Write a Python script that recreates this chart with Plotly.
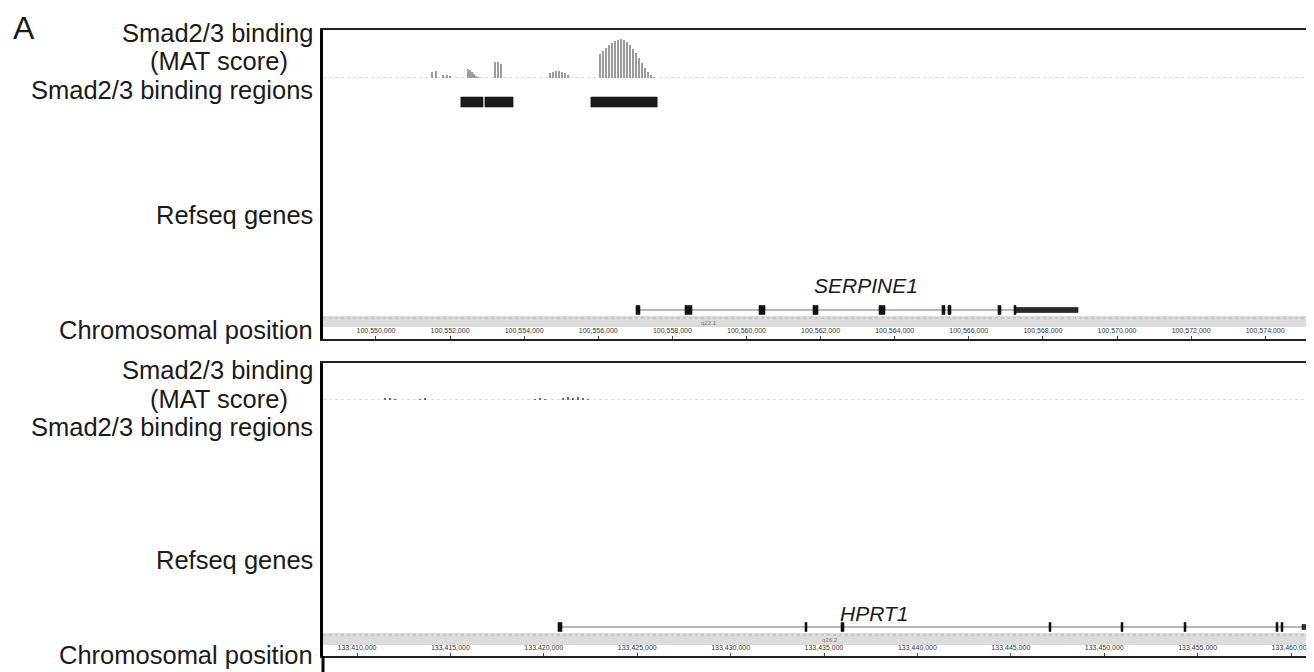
import plotly.graph_objects as go

W, H = 1314, 672
OFF = 8  # default page margin of the HTML body

# ---------------- data: top locus (chr7, SERPINE1) ----------------
top_range = [100548570, 100575317]
top_ticks = list(range(100548000, 100576001, 2000))
top_probe_pos = [100551511, 100551619, 100551808, 100551916, 100551997,
                 100552483, 100552537, 100552591, 100552645, 100552699, 100552753,
                 100553212, 100553293, 100553374,
                 100554696, 100554777, 100554858, 100554939, 100555020, 100555101, 100555182,
                 100556046, 100556127, 100556208, 100556289, 100556370, 100556451, 100556532,
                 100556613, 100556694, 100556775, 100556856, 100556937, 100557017, 100557098,
                 100557179, 100557260, 100557341, 100557422, 100557503]
top_probe_score = [6, 7, 3, 3, 2,
                   9, 8, 6, 4, 2, 1,
                   16, 16, 14,
                   5, 6, 7, 7, 6, 5, 3,
                   24, 27, 30, 33, 35, 37, 38,
                   39, 38, 36, 33, 29, 25, 20,
                   15, 10, 6, 3, 1]
top_region_start = [100552290, 100552940, 100555800]
top_region_end = [100552890, 100553700, 100557590]
serpine1_exon_start = [100557017, 100558340, 100560337, 100561795, 100563576,
                       100565276, 100565438, 100566788, 100567220]
serpine1_exon_end = [100557125, 100558529, 100560499, 100561930, 100563738,
                     100565357, 100565519, 100566869, 100567274]
serpine1_utr_start = [100567274]
serpine1_utr_end = [100568947]
serpine1_span = [100557017, 100568947]
serpine1_label_pos = 100563225
top_band_label = "q22.1"
top_band_label_pos = 100559000

# ---------------- data: bottom locus (chrX, HPRT1) ----------------
bot_range = [133408180, 133461228]
bot_ticks = list(range(133405000, 133465001, 5000))
bot_probe_pos = [133411499, 133411766, 133412034, 133413372, 133413640,
                 133419528, 133419796, 133420064, 133421027, 133421295,
                 133421562, 133421830, 133422098, 133422365]
bot_probe_score = [1.5, 2, 1, 1, 1.5, 1, 1.5, 1, 2, 3, 2.5, 3, 2, 1]
bot_region_start = []
bot_region_end = []
hprt1_exon_start = [133420759, 133433981, 133435909, 133447043, 133450897,
                    133454269, 133459194, 133459462]
hprt1_exon_end = [133420974, 133434089, 133436069, 133447150, 133451004,
                  133454376, 133459301, 133459569]
hprt1_utr_start = [133460586]
hprt1_utr_end = [133461500]
hprt1_span = [133420759, 133461500]
hprt1_label_pos = 133437675
bot_band_label = "q26.2"
bot_band_label_pos = 133435300

# ---------------- helpers (reference pixel -> paper fraction) ----------------
FW, FH = W - OFF, H - OFF

def fx(xpx):
    return (xpx - OFF) / FW

def fy(ypx):
    return 1 - (ypx - OFF) / FH

FONT = "Liberation Sans, Arial, Helvetica, sans-serif"
fig = go.Figure()

fig.add_trace(go.Bar(x=top_probe_pos, y=top_probe_score, width=62,
                     marker=dict(color="#9c9c9c", line=dict(width=0)),
                     xaxis="x", yaxis="y", showlegend=False, hoverinfo="skip"))
fig.add_trace(go.Bar(x=bot_probe_pos, y=bot_probe_score, width=110,
                     marker=dict(color="#6a6a6a", line=dict(width=0)),
                     xaxis="x2", yaxis="y3", showlegend=False, hoverinfo="skip"))

def xaxis_cfg(rng, ticks, anchor):
    return dict(domain=[fx(323), 1], range=rng, anchor=anchor, side="bottom",
                showline=True, linecolor="#222", linewidth=2, mirror=True,
                showgrid=False, zeroline=False, tickmode="array", tickvals=ticks,
                tickformat=",d", ticklabelposition="inside", ticks="inside",
                ticklen=3, tickcolor="#444", tickwidth=1,
                tickfont=dict(size=7, color="#333", family=FONT), fixedrange=True)

def frame_cfg(ybot, ytop, anchor):
    return dict(domain=[fy(ybot), fy(ytop)], range=[ybot, ytop], anchor=anchor,
                showline=True, linecolor="#000", linewidth=3, showgrid=False,
                zeroline=False, showticklabels=False, ticks="")

def sig_cfg(ybase, anchor):
    return dict(domain=[fy(ybase), fy(ybase - 40)], range=[0, 40], anchor=anchor,
                visible=False, fixedrange=True)

fig.update_layout(
    width=FW, height=FH, margin=dict(l=0, r=0, t=0, b=0),
    paper_bgcolor="white", plot_bgcolor="rgba(0,0,0,0)", bargap=0,
    xaxis=xaxis_cfg(top_range, top_ticks, "y2"),
    yaxis=sig_cfg(78, "x"),
    yaxis2=frame_cfg(339, 30, "x"),
    xaxis2=xaxis_cfg(bot_range, bot_ticks, "y4"),
    yaxis3=sig_cfg(400, "x2"),
    yaxis4=frame_cfg(656, 363, "x2"),
)

shapes = []

def add_locus(xr, ysig, yfr, rng, reg_s, reg_e, ex_s, ex_e, utr_s, utr_e, span,
              y_reg, y_gene, band):
    shapes.append(dict(type="line", xref=xr, yref=ysig, x0=rng[0], x1=rng[1], y0=0, y1=0,
                       line=dict(color="#b5b5b5", width=1, dash="dot"), layer="below"))
    for s, e in zip(reg_s, reg_e):
        shapes.append(dict(type="rect", xref=xr, yref=yfr, x0=s, x1=e,
                           y0=y_reg - 5, y1=y_reg + 5, fillcolor="#1c1c1c",
                           line=dict(color="#000", width=0.5)))
    shapes.append(dict(type="rect", xref=xr + " domain", yref=yfr, x0=0, x1=1,
                       y0=band[0], y1=band[1], fillcolor="#dcdcdc",
                       line=dict(width=0), layer="below"))
    shapes.append(dict(type="line", xref=xr + " domain", yref=yfr, x0=0, x1=1,
                       y0=band[0] + 2, y1=band[0] + 2,
                       line=dict(color="#b0b0b0", width=1, dash="dot"), layer="below"))
    shapes.append(dict(type="line", xref=xr, yref=yfr, x0=span[0], x1=span[1],
                       y0=y_gene, y1=y_gene, line=dict(color="#707070", width=1)))
    for s, e in zip(ex_s, ex_e):
        shapes.append(dict(type="rect", xref=xr, yref=yfr, x0=s, x1=e,
                           y0=y_gene - 4.5, y1=y_gene + 4.5, fillcolor="#111",
                           line=dict(color="#111", width=0.6)))
    for s, e in zip(utr_s, utr_e):
        shapes.append(dict(type="rect", xref=xr, yref=yfr, x0=s, x1=e,
                           y0=y_gene - 2.5, y1=y_gene + 2.5, fillcolor="#2a2a2a",
                           line=dict(color="#111", width=0.6)))

add_locus("x", "y", "y2", top_range, top_region_start, top_region_end,
          serpine1_exon_start, serpine1_exon_end, serpine1_utr_start, serpine1_utr_end,
          serpine1_span, 102, 310, (316, 327))
add_locus("x2", "y3", "y4", bot_range, bot_region_start, bot_region_end,
          hprt1_exon_start, hprt1_exon_end, hprt1_utr_start, hprt1_utr_end,
          hprt1_span, 432, 627, (633, 645))

# left border of lower panel continues to the page bottom
shapes.append(dict(type="line", xref="paper", yref="paper", x0=fx(323), x1=fx(323),
                   y0=0, y1=fy(656), line=dict(color="#000", width=3)))
fig.update_layout(shapes=shapes)

ann = []
def label(text, ypx, xpx=315, anchor="right", size=25.5):
    ann.append(dict(text=text, x=fx(xpx), y=fy(ypx), xref="paper", yref="paper",
                    xanchor=anchor, yanchor="middle", showarrow=False,
                    font=dict(family=FONT, size=size, color="#1a1a1a")))

label("A", 28, xpx=11, anchor="left", size=32)
label("Smad2/3 binding", 33)
label("(MAT score)", 61, xpx=219, anchor="center")
label("Smad2/3 binding regions", 90)
label("Refseq genes", 215)
label("Chromosomal position", 330)
label("Smad2/3 binding", 370)
label("(MAT score)", 399, xpx=219, anchor="center")
label("Smad2/3 binding regions", 427)
label("Refseq genes", 560)
label("Chromosomal position", 655)

ann.append(dict(text="<i>SERPINE1</i>", x=serpine1_label_pos, y=285, xref="x", yref="y2",
                showarrow=False, xanchor="center", yanchor="middle",
                font=dict(family=FONT, size=21, color="#1a1a1a")))
ann.append(dict(text="<i>HPRT1</i>", x=hprt1_label_pos, y=613, xref="x2", yref="y4",
                showarrow=False, xanchor="center", yanchor="middle",
                font=dict(family=FONT, size=21, color="#1a1a1a")))
ann.append(dict(text=top_band_label, x=top_band_label_pos, y=323, xref="x", yref="y2",
                showarrow=False, font=dict(family=FONT, size=6, color="#777")))
ann.append(dict(text=bot_band_label, x=bot_band_label_pos, y=640, xref="x2", yref="y4",
                showarrow=False, font=dict(family=FONT, size=6, color="#777")))
fig.update_layout(annotations=ann)

fig.write_html("out.html")
